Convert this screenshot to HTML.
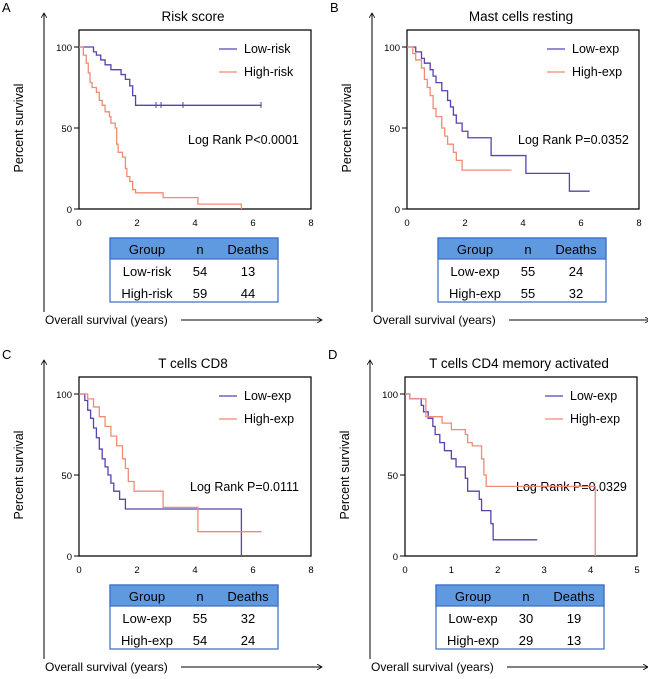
<!DOCTYPE html>
<html><head><meta charset="utf-8"><style>
body{margin:0;background:#fff}
svg{display:block;font-family:"Liberation Sans",Arial,sans-serif}
.lo{fill:none;stroke:#5a40b0;stroke-width:1.3}
.hi{fill:none;stroke:#f08c74;stroke-width:1.3}
</style></head><body>
<svg width="648" height="679" viewBox="0 0 648 679" xmlns="http://www.w3.org/2000/svg">
<defs>
<marker id="ar" markerWidth="6" markerHeight="6" refX="5" refY="3" orient="auto"><path d="M0,0 L5,3 L0,6" fill="none" stroke="#000" stroke-width="0.8"/></marker>
<g id="frame">
 <line x1="44" y1="312" x2="44" y2="13" stroke="#000" marker-end="url(#ar)"/>
 <line x1="181" y1="320" x2="322" y2="320" stroke="#000" marker-end="url(#ar)"/>
 <text x="45" y="324" font-size="12">Overall survival (years)</text>
 <text transform="translate(23,128) rotate(-90)" font-size="12.5" text-anchor="middle">Percent survival</text>
 <path d="M79,30 H311 V209 H79 Z" fill="none" stroke="#000" stroke-width="1.2"/>
 <g stroke="#000"><line x1="74" y1="47" x2="79" y2="47"/><line x1="74" y1="128" x2="79" y2="128"/><line x1="74" y1="209" x2="79" y2="209"/></g>
 <g font-size="9.5" text-anchor="end"><text x="72" y="51">100</text><text x="72" y="132">50</text><text x="72" y="213">0</text></g>
 <rect x="110" y="238" width="168" height="64" fill="#fff" stroke="#3a6cc0" stroke-width="1.2"/>
 <rect x="110" y="238" width="168" height="21" fill="#5f9ae0" stroke="#3a6cc0" stroke-width="1.2"/>
 <line x1="219" y1="49" x2="237" y2="49" class="lo"/>
 <line x1="219" y1="72" x2="237" y2="72" class="hi"/>
</g>
</defs>

<!-- A -->
<g>
<use href="#frame"/>
<text x="2" y="12" font-size="13">A</text>
<text x="193" y="21" font-size="13.5" text-anchor="middle">Risk score</text>
<g font-size="9.5" text-anchor="middle"><text x="79" y="226">0</text><text x="137" y="226">2</text><text x="195" y="226">4</text><text x="253" y="226">6</text><text x="311" y="226">8</text></g>
<text x="244" y="53" font-size="12.5">Low-risk</text><text x="244" y="76" font-size="12.5">High-risk</text>
<text x="188" y="144" font-size="12.5">Log Rank P&lt;0.0001</text>
<g font-size="13" text-anchor="middle"><text x="147" y="254">Group</text><text x="200" y="254">n</text><text x="248" y="254">Deaths</text>
<text x="147" y="276">Low-risk</text><text x="200" y="276">54</text><text x="248" y="276">13</text>
<text x="147" y="298">High-risk</text><text x="200" y="298">59</text><text x="248" y="298">44</text></g>
<g transform="translate(79,209) scale(29,-1.62)">
<polyline class="lo" vector-effect="non-scaling-stroke" points="0,100 0.5,100 0.5,97 0.6,97 0.6,95 0.75,95 0.75,92 0.9,92 0.9,89 1.1,89 1.1,86 1.45,86 1.45,83 1.6,83 1.6,80 1.75,80 1.75,76 1.85,76 1.85,70 1.95,70 1.95,64 6.3,64"/>
<polyline class="hi" vector-effect="non-scaling-stroke" points="0,100 0.15,100 0.15,95 0.25,95 0.25,90 0.32,90 0.32,84 0.38,84 0.38,78 0.45,78 0.45,75 0.6,75 0.6,72 0.7,72 0.7,67 0.8,67 0.8,64 0.9,64 0.9,60 1.05,60 1.05,57 1.1,57 1.1,53 1.25,53 1.25,50 1.3,50 1.3,40 1.35,40 1.35,35 1.5,35 1.5,32 1.6,32 1.6,25 1.65,25 1.65,20 1.75,20 1.75,17 1.85,17 1.85,12 1.95,12 1.95,10 2.9,10 2.9,7 4.1,7 4.1,3 5.6,3 5.6,0"/>
</g>
<g stroke="#5a40b0" stroke-width="1"><line x1="156" y1="102" x2="156" y2="108"/><line x1="161" y1="102" x2="161" y2="108"/><line x1="183" y1="102" x2="183" y2="108"/><line x1="261" y1="102" x2="261" y2="108"/></g>
</g>

<!-- B -->
<g transform="translate(328,0)">
<use href="#frame"/>
<text x="2" y="12" font-size="13">B</text>
<text x="193" y="21" font-size="13.5" text-anchor="middle">Mast cells resting</text>
<g font-size="9.5" text-anchor="middle"><text x="79" y="226">0</text><text x="137" y="226">2</text><text x="195" y="226">4</text><text x="253" y="226">6</text><text x="311" y="226">8</text></g>
<text x="244" y="53" font-size="12.5">Low-exp</text><text x="244" y="76" font-size="12.5">High-exp</text>
<text x="190" y="144" font-size="12.5">Log Rank P=0.0352</text>
<g font-size="13" text-anchor="middle"><text x="147" y="254">Group</text><text x="200" y="254">n</text><text x="248" y="254">Deaths</text>
<text x="147" y="276">Low-exp</text><text x="200" y="276">55</text><text x="248" y="276">24</text>
<text x="147" y="298">High-exp</text><text x="200" y="298">55</text><text x="248" y="298">32</text></g>
<g transform="translate(79,209) scale(29,-1.62)">
<polyline class="lo" vector-effect="non-scaling-stroke" points="0,100 0.3,100 0.3,97 0.5,97 0.5,93 0.6,93 0.6,90 0.8,90 0.8,86 0.9,86 0.9,82 1,82 1,78 1.2,78 1.2,73 1.4,73 1.4,67 1.5,67 1.5,63 1.6,63 1.6,58 1.7,58 1.7,53 1.9,53 1.9,48 2.1,48 2.1,44 2.9,44 2.9,33 4.1,33 4.1,22 5.6,22 5.6,11 6.3,11"/>
<polyline class="hi" vector-effect="non-scaling-stroke" points="0,100 0.2,100 0.2,96 0.3,96 0.3,92 0.5,92 0.5,87 0.6,87 0.6,80 0.7,80 0.7,75 0.8,75 0.8,70 0.9,70 0.9,62 1,62 1,57 1.2,57 1.2,50 1.3,50 1.3,45 1.4,45 1.4,40 1.6,40 1.6,35 1.7,35 1.7,30 1.9,30 1.9,24 3.6,24"/>
</g></g>

<!-- C -->
<g transform="translate(0,347)">
<use href="#frame"/>
<text x="2" y="12" font-size="13">C</text>
<text x="193" y="21" font-size="13.5" text-anchor="middle">T cells CD8</text>
<g font-size="9.5" text-anchor="middle"><text x="79" y="226">0</text><text x="137" y="226">2</text><text x="195" y="226">4</text><text x="253" y="226">6</text><text x="311" y="226">8</text></g>
<text x="244" y="53" font-size="12.5">Low-exp</text><text x="244" y="76" font-size="12.5">High-exp</text>
<text x="190" y="144" font-size="12.5">Log Rank P=0.0111</text>
<g font-size="13" text-anchor="middle"><text x="147" y="254">Group</text><text x="200" y="254">n</text><text x="248" y="254">Deaths</text>
<text x="147" y="276">Low-exp</text><text x="200" y="276">55</text><text x="248" y="276">32</text>
<text x="147" y="298">High-exp</text><text x="200" y="298">54</text><text x="248" y="298">24</text></g>
<g transform="translate(79,209) scale(29,-1.62)">
<polyline class="lo" vector-effect="non-scaling-stroke" points="0,100 0.2,100 0.2,96 0.3,96 0.3,90 0.4,90 0.4,85 0.5,85 0.5,79 0.6,79 0.6,73 0.7,73 0.7,66 0.8,66 0.8,60 0.9,60 0.9,55 1,55 1,50 1.1,50 1.1,45 1.2,45 1.2,40 1.4,40 1.4,35 1.6,35 1.6,29 5.6,29 5.6,0"/>
<polyline class="hi" vector-effect="non-scaling-stroke" points="0,100 0.3,100 0.3,97 0.5,97 0.5,92 0.7,92 0.7,86 0.9,86 0.9,80 1.1,80 1.1,74 1.3,74 1.3,68 1.5,68 1.5,60 1.6,60 1.6,54 1.7,54 1.7,46 1.9,46 1.9,40 2.9,40 2.9,30 4.1,30 4.1,15 6.3,15"/>
</g></g>

<!-- D -->
<g transform="translate(326,347)">
<use href="#frame"/>
<text x="2" y="12" font-size="13">D</text>
<text x="193" y="21" font-size="13.5" text-anchor="middle">T cells CD4 memory activated</text>
<g font-size="9.5" text-anchor="middle"><text x="79" y="226">0</text><text x="125.4" y="226">1</text><text x="171.8" y="226">2</text><text x="218.2" y="226">3</text><text x="264.6" y="226">4</text><text x="311" y="226">5</text></g>
<text x="244" y="53" font-size="12.5">Low-exp</text><text x="244" y="76" font-size="12.5">High-exp</text>
<text x="190" y="144" font-size="12.5">Log Rank P=0.0329</text>
<g font-size="13" text-anchor="middle"><text x="147" y="254">Group</text><text x="200" y="254">n</text><text x="248" y="254">Deaths</text>
<text x="147" y="276">Low-exp</text><text x="200" y="276">30</text><text x="248" y="276">19</text>
<text x="147" y="298">High-exp</text><text x="200" y="298">29</text><text x="248" y="298">13</text></g>
<g transform="translate(79,209) scale(46.4,-1.62)">
<polyline class="lo" vector-effect="non-scaling-stroke" points="0,100 0.1,100 0.1,97 0.35,97 0.35,93 0.4,93 0.4,89 0.5,89 0.5,85 0.6,85 0.6,80 0.65,80 0.65,75 0.75,75 0.75,70 0.85,70 0.85,65 1,65 1,60 1.1,60 1.1,55 1.3,55 1.3,48 1.35,48 1.35,40 1.6,40 1.6,35 1.65,35 1.65,28 1.85,28 1.85,20 1.9,20 1.9,10 2.85,10"/>
<polyline class="hi" vector-effect="non-scaling-stroke" points="0,100 0.1,100 0.1,97 0.45,97 0.45,86 0.8,86 0.8,82 1,82 1,78 1.3,78 1.3,75 1.35,75 1.35,70 1.45,70 1.45,68 1.65,68 1.65,60 1.7,60 1.7,50 1.75,50 1.75,43 4.1,43 4.1,0"/>
</g></g>
</svg>
</body></html>
